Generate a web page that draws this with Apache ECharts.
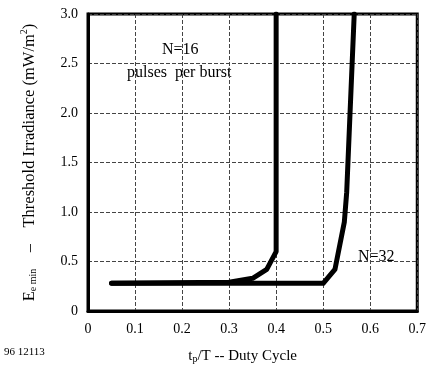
<!DOCTYPE html>
<html><head><meta charset="utf-8">
<script src="https://cdn.jsdelivr.net/npm/echarts@6/dist/echarts.min.js"></script>
<style>html,body{margin:0;padding:0;background:#fff}#c{width:429px;height:372px}</style>
</head><body><div id="c"></div>
<script>
const xTicks = [0, 0.1, 0.2, 0.3, 0.4, 0.5, 0.6, 0.7];
const yTicks = [0, 0.5, 1.0, 1.5, 2.0, 2.5, 3.0];
const n16X = [0.05, 0.30, 0.35, 0.38, 0.40, 0.40];
const n16Y = [0.28, 0.29, 0.33, 0.42, 0.60, 3.0];
const n32X = [0.05, 0.50, 0.525, 0.545, 0.55, 0.566];
const n32Y = [0.28, 0.28, 0.42, 0.90, 1.20, 3.0];
const F = 'Liberation Serif';
const chart = echarts.init(document.getElementById('c'));
chart.setOption({
  animation: false,
  grid: {left: 88, right: 10, top: 14, bottom: 61, show: true, borderColor: '#000', borderWidth: 3},
  xAxis: {type: 'value', min: 0, max: 0.7, interval: 0.1,
    axisLine: {show: true, lineStyle: {color: '#000', width: 3}},
    axisTick: {show: false},
    axisLabel: {color: '#000', fontFamily: F, fontSize: 14, margin: 11,
      formatter: v => v === 0 ? '0' : v.toFixed(1)},
    splitLine: {show: true, lineStyle: {color: '#444', type: [4, 2], width: 1}},
    name: '{m|t}{s|p}{m|/T -- Duty Cycle}', nameLocation: 'middle', nameGap: 35,
    nameTextStyle: {padding: [0, 20, 0, 0], rich: {
      m: {fontFamily: F, fontSize: 15, lineHeight: 18, verticalAlign: 'bottom', color: '#000'},
      s: {fontFamily: F, fontSize: 10, lineHeight: 10, verticalAlign: 'bottom', color: '#000'}}}
  },
  yAxis: {type: 'value', min: 0, max: 3, interval: 0.5,
    axisLine: {show: true, lineStyle: {color: '#000', width: 3}},
    axisTick: {show: false},
    axisLabel: {color: '#000', fontFamily: F, fontSize: 14, margin: 10,
      formatter: v => v === 0 ? '0' : v.toFixed(1)},
    splitLine: {show: true, lineStyle: {color: '#444', type: [4, 2], width: 1}},
    name: '{m|E}{s|e min}{m|    –    Threshold Irradiance (mW/m}{u|2}{m|)}', nameLocation: 'middle', nameGap: 50, nameRotate: 90,
    nameTextStyle: {rich: {
      m: {fontFamily: F, fontSize: 16.5, lineHeight: 19, verticalAlign: 'bottom', color: '#000'},
      s: {fontFamily: F, fontSize: 10, lineHeight: 10, verticalAlign: 'bottom', color: '#000'},
      u: {fontFamily: F, fontSize: 10, lineHeight: 10, verticalAlign: 'top', color: '#000'}}}
  },
  graphic: [
    {type: 'text', left: 162, top: 42, style: {text: 'N=16', font: '16px "Liberation Serif"', fill: '#000'}},
    {type: 'text', left: 127, top: 65, style: {text: 'pulses  per burst', font: '16px "Liberation Serif"', fill: '#000'}},
    {type: 'text', left: 358, top: 249, style: {text: 'N=32', font: '16px "Liberation Serif"', fill: '#000'}},
    {type: 'text', left: 4, top: 347, style: {text: '96 12113', font: '11px "Liberation Serif"', fill: '#000'}}
  ],
  series: [
    {type: 'line', data: n16X.map((x, i) => [x, n16Y[i]]), symbol: 'none', lineStyle: {color: '#000', width: 5, cap: 'round', join: 'round'}},
    {type: 'line', data: n32X.map((x, i) => [x, n32Y[i]]), symbol: 'none', lineStyle: {color: '#000', width: 5, cap: 'round', join: 'round'}}
  ]
});
</script></body></html>
